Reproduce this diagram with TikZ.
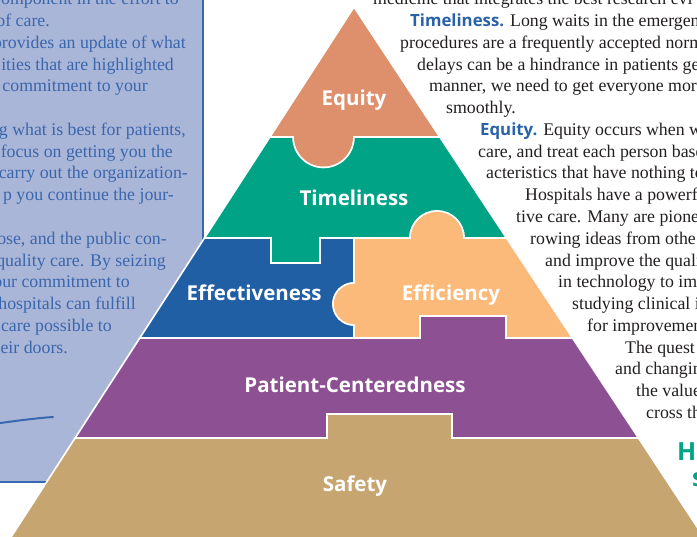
\documentclass[tikz,border=0pt]{standalone}
\usepackage{fontspec}
\setmainfont{Liberation Serif}
\newfontfamily\labfont{Open Sans}
\definecolor{cEquity}{HTML}{DE8F6C}
\definecolor{cTime}{HTML}{00A386}
\definecolor{cEffect}{HTML}{215FA5}
\definecolor{cEffic}{HTML}{FBB97A}
\definecolor{cPatient}{HTML}{8D5193}
\definecolor{cSafety}{HTML}{C6A571}
\definecolor{cPanel}{HTML}{AAB6D8}
\definecolor{cBorder}{HTML}{3A68B0}
\definecolor{cPanelText}{HTML}{3A66AC}
\definecolor{cBody}{HTML}{231F20}
\definecolor{cHeadBlue}{HTML}{2A62A8}
\definecolor{cHeadTeal}{HTML}{00A386}
\tikzset{
  piece/.style={draw=white, line width=1.6pt},
  lab/.style={text=white, inner sep=0pt, anchor=base, font=\labfont\bfseries\fontsize{20.5}{24}\selectfont},
  ltext/.style={text=cPanelText, inner sep=0pt, anchor=base east, font=\fontsize{17.8}{21.78}\selectfont},
  rtext/.style={text=cBody, inner sep=0pt, anchor=base west, font=\fontsize{17.8}{21.78}\selectfont},
  panelline/.style={draw=cBorder, line width=1.8pt},
  sig/.style={draw=cBorder, line width=2pt, line cap=round}
}
\newcommand{\headb}[1]{{\labfont\bfseries\color{cHeadBlue}\fontsize{16.8}{21.78}\selectfont #1}}
\begin{document}
\begin{tikzpicture}[x=1pt, y=-1pt]
\useasboundingbox (0,0) rectangle (697,537);
\clip (0,0) rectangle (697,537);
% left panel
\fill[cPanel] (-5,-5) rectangle (203,482);
\draw[panelline] (203,-5) -- (203,482) -- (-5,482);
\draw[sig] (-3,423.5) .. controls (18,420.5) and (38,418) .. (53,417);
% left panel text
\node[ltext] (l0) at (179,4.7) {omponent in the effort to};
\node[ltext] (l1) at (50,26.5) {of care.};
\node[ltext] (l2) at (186,48.3) {provides an update of what};
\node[ltext] (l3) at (174,70.1) {ities that are highlighted};
\node[ltext] (l4) at (148,91.8) {commitment to your};
\node[ltext] (l6) at (186,135.4) {g what is best for patients,};
\node[ltext] (l7) at (173,157.2) {focus on getting you the};
\node[ltext] (l8) at (188,179.0) {carry out the organization-};
\node[ltext] (l9) at (174,200.7) {p you continue the jour-};
\node[ltext] (l11) at (167,244.3) {ose, and the public con-};
\node[ltext] (l12) at (166,266.1) {quality care. By seizing};
\node[ltext] (l13) at (130,287.9) {our commitment to};
\node[ltext] (l14) at (136,309.6) {hospitals can fulfill};
\node[ltext] (l15) at (112,331.4) {care possible to};
\node[ltext] (l16) at (68,353.2) {eir doors.};
% pyramid pieces
% Equity
\filldraw[piece, fill=cEquity] (354,7) -- (439.8,137) -- (354,137)
  .. controls (354,153.85) and (340.35,167.5) .. (323.5,167.5)
  .. controls (306.65,167.5) and (293,153.85) .. (293,137)
  -- (269.9,137) -- cycle;
% Timeliness
\filldraw[piece, fill=cTime] (269.9,137) -- (293,137)
  .. controls (293,153.85) and (306.65,167.5) .. (323.5,167.5)
  .. controls (340.35,167.5) and (354,153.85) .. (354,137)
  -- (439.8,137) -- (506.5,238) -- (464,238)
  .. controls (464,223.09) and (451.91,211) .. (437,211)
  .. controls (422.09,211) and (410,223.09) .. (410,238)
  -- (320,238) -- (320,263) -- (271,263) -- (271,238) -- (204.5,238) -- cycle;
% Effectiveness
\filldraw[piece, fill=cEffect] (204.5,238) -- (271,238) -- (271,263) -- (320,263) -- (320,238) -- (354,238) -- (354,283)
  .. controls (342.4,283) and (333,292.4) .. (333,304)
  .. controls (333,315.6) and (342.4,325) .. (354,325)
  -- (354,338) -- (139.8,338) -- cycle;
% Efficiency
\filldraw[piece, fill=cEffic] (354,238) -- (410,238)
  .. controls (410,223.09) and (422.09,211) .. (437,211)
  .. controls (451.91,211) and (464,223.09) .. (464,238)
  -- (506.5,238) -- (572.5,338) -- (506,338) -- (506,316) -- (420,316) -- (420,338) -- (354,338) -- (354,325)
  .. controls (342.4,325) and (333,315.6) .. (333,304)
  .. controls (333,292.4) and (342.4,283) .. (354,283) -- cycle;
% Patient-Centeredness
\filldraw[piece, fill=cPatient] (139.8,338) -- (420,338) -- (420,316) -- (506,316) -- (506,338) -- (572.5,338) -- (638.5,438) -- (452,438) -- (452,414) -- (327,414) -- (327,438) -- (75.1,438) -- cycle;
% Safety
\filldraw[piece, fill=cSafety] (75.1,438) -- (327,438) -- (327,414) -- (452,414) -- (452,438) -- (638.5,438) -- (709,545) -- (5.9,545) -- cycle;
% labels
\node[lab] (equity) at (354,106) {Equity};
\node[lab] (timeliness) at (354,206) {Timeliness};
\node[lab] (effectiveness) at (254,301) {Effectiveness};
\node[lab] (efficiency) at (451,301) {Efficiency};
\node[lab] (patient) at (355,393) {Patient-Centeredness};
\node[lab] (safety) at (355,492) {Safety};
% right column text
\node[rtext] (r0) at (373,4.7) {medicine that integrates the best research evi};
\node[rtext] (r1) at (410,26.5) {\headb{Timeliness.} Long waits in the emergen};
\node[rtext] (r2) at (400,48.3) {procedures are a frequently accepted norm};
\node[rtext] (r3) at (417,70.1) {delays can be a hindrance in patients ge};
\node[rtext] (r4) at (429,91.8) {manner, we need to get everyone mor};
\node[rtext] (r5) at (446,113.6) {smoothly.};
\node[rtext] (r6) at (480,135.4) {\headb{Equity.} Equity occurs when we};
\node[rtext] (r7) at (478,157.2) {care, and treat each person base};
\node[rtext] (r8) at (486,179.0) {acteristics that have nothing to};
\node[rtext] (r9) at (525,200.7) {Hospitals have a powerfu};
\node[rtext] (r10) at (516,222.5) {tive care. Many are pionee};
\node[rtext] (r11) at (530,244.3) {rowing ideas from othe};
\node[rtext] (r12) at (545,266.1) {and improve the quali};
\node[rtext] (r13) at (558,287.9) {in technology to im};
\node[rtext] (r14) at (572,309.6) {studying clinical i};
\node[rtext] (r15) at (587,331.4) {for improvemen};
\node[rtext] (r16) at (625,353.2) {The quest};
\node[rtext] (r17) at (615,375.0) {and changin};
\node[rtext] (r18) at (636,396.7) {the value};
\node[rtext] (r19) at (646,418.5) {cross th};
\node[rtext, text=cHeadTeal, font=\labfont\bfseries\fontsize{25}{28}\selectfont] (ho) at (677,461) {Ho};
\node[rtext, text=cHeadTeal, font=\labfont\bfseries\fontsize{25}{28}\selectfont] (s) at (692,487) {s};
\end{tikzpicture}
\end{document}
